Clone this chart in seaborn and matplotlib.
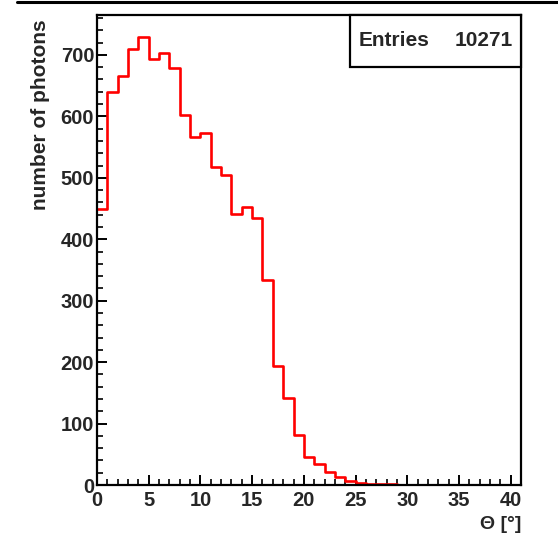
import numpy as np
import pandas as pd
import seaborn as sns
import matplotlib
matplotlib.use("Agg")
import matplotlib.pyplot as plt
from matplotlib.ticker import MultipleLocator
from matplotlib.patches import Rectangle
from matplotlib.lines import Line2D

# ---- data ----
bin_edges = list(range(0, 42))  # 1-degree bins from 0 to 41
counts = [450, 640, 665, 709, 729, 694, 703, 678, 603, 567,
          573, 517, 504, 441, 453, 435, 334, 194, 141, 82,
          46, 35, 21, 13, 6, 3, 2, 1, 1, 0,
          0, 0, 0, 0, 0, 0, 0, 0, 0, 0, 0]
entries_label = "Entries"
entries_value = "10271"
x_label = "Θ [°]"
y_label = "number of photons"

sns.set_style("white")
plt.rcParams["font.family"] = ["Liberation Sans", "DejaVu Sans"]

fig = plt.figure(figsize=(5.58, 5.41), dpi=100)
ax = fig.add_axes([0.1738, 0.1035, 0.760, 0.8688])

centers = [(bin_edges[i] + bin_edges[i + 1]) / 2 for i in range(len(counts))]
df = pd.DataFrame({"theta": centers, "n": counts})
sns.histplot(data=df, x="theta", weights="n", bins=bin_edges, element="step",
             fill=False, color="#ff0000", linewidth=1.9, ax=ax)

ax.set_xlim(0, 41)
ax.set_ylim(0, 765)

for s in ax.spines.values():
    s.set_linewidth(1.6)
    s.set_color("black")

ax.xaxis.set_major_locator(MultipleLocator(5))
ax.xaxis.set_minor_locator(MultipleLocator(1))
ax.yaxis.set_major_locator(MultipleLocator(100))
ax.yaxis.set_minor_locator(MultipleLocator(20))
ax.tick_params(which="both", direction="in", left=True, bottom=True,
               top=False, right=False, color="black")
ax.tick_params(which="major", length=7.5, width=1.4, labelsize=14.5)
ax.tick_params(axis="y", which="major", pad=2)
ax.tick_params(axis="x", which="major", pad=4)
ax.tick_params(which="minor", length=4.5, width=1.2)
for lab in ax.get_xticklabels() + ax.get_yticklabels():
    lab.set_fontweight("bold")

ax.set_ylabel(y_label, loc="top", fontsize=15, fontweight="bold")
ax.yaxis.set_label_coords(-0.111, 0.99)
ax.set_xlabel(x_label, loc="right", fontsize=14, fontweight="bold")
ax.xaxis.set_label_coords(1.0, -0.066)

# stats box
ax.add_patch(Rectangle((0.597, 0.889), 0.403, 0.111, transform=ax.transAxes,
                       fill=True, facecolor="white", edgecolor="black",
                       linewidth=1.6, zorder=5, clip_on=False))
ax.text(0.616, 0.945, entries_label, transform=ax.transAxes, fontsize=15,
        fontweight="bold", ha="left", va="center", zorder=6)
ax.text(0.981, 0.945, entries_value, transform=ax.transAxes, fontsize=15,
        fontweight="bold", ha="right", va="center", zorder=6)

# top frame line
fig.add_artist(Line2D([17 / 558, 1.0], [1 - 2 / 541, 1 - 2 / 541],
                      transform=fig.transFigure, color="black", linewidth=2.2))

fig.savefig("out.png", dpi=100, facecolor="white")
